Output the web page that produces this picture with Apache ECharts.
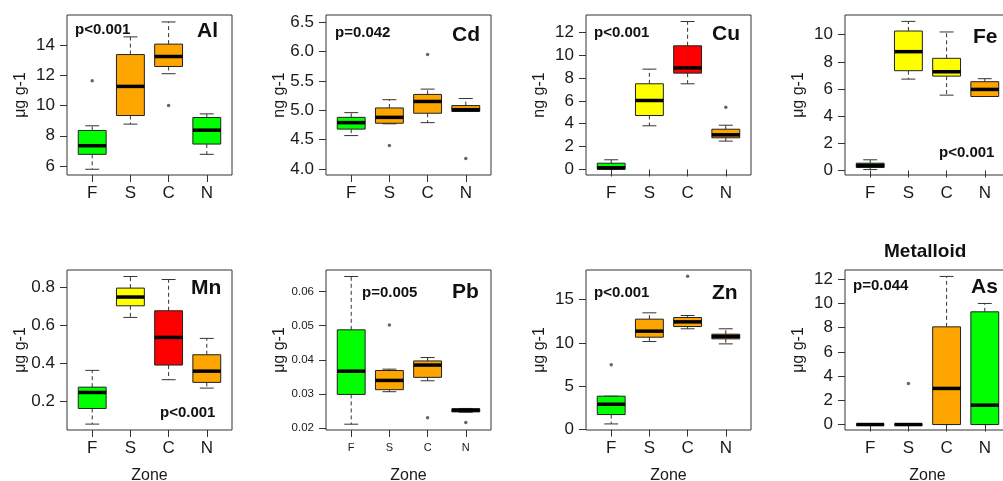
<!DOCTYPE html>
<html>
<head>
<meta charset="utf-8">
<script src="https://cdn.jsdelivr.net/npm/echarts@6/dist/echarts.min.js"></script>
<style>html,body{margin:0;padding:0;background:#fff}#main{width:1003px;height:481px}</style>
</head>
<body>
<div id="main"></div>
<script>
// zones on the x axis
var zones = ['F', 'S', 'C', 'N'];
var elements = ['Al', 'Cd', 'Cu', 'Fe', 'Mn', 'Pb', 'Zn', 'As'];
var units = ['μg g-1', 'ng g-1', 'ng g-1', 'μg g-1', 'μg g-1', 'μg g-1', 'μg g-1', 'μg g-1'];
var pValues = ['p<0.001', 'p=0.042', 'p<0.001', 'p<0.001', 'p<0.001', 'p=0.005', 'p<0.001', 'p=0.044'];

// box stats per zone: [min, Q1, median, Q3, max]
var alBox = [[5.78, 6.77, 7.34, 8.35, 8.66], [8.77, 9.34, 11.27, 13.38, 14.55], [12.11, 12.59, 13.25, 14.07, 15.54], [6.77, 7.45, 8.37, 9.21, 9.45]];
var cdBox = [[4.57, 4.68, 4.79, 4.88, 4.96], [4.77, 4.78, 4.88, 5.04, 5.18], [4.79, 4.95, 5.15, 5.27, 5.36], [4.98, 4.98, 5.01, 5.08, 5.2]];
var cuBox = [[0, 0.02, 0.15, 0.55, 0.85], [3.82, 4.72, 6.03, 7.49, 8.77], [7.49, 8.42, 8.88, 10.81, 12.93], [2.48, 2.77, 3.03, 3.52, 3.87]];
var feBox = [[0.07, 0.22, 0.37, 0.54, 0.79], [6.73, 7.35, 8.75, 10.27, 10.98], [5.55, 6.95, 7.27, 8.26, 10.2], [5.45, 5.45, 5.97, 6.54, 6.76]];
var mnBox = [[0.081, 0.163, 0.247, 0.275, 0.363], [0.641, 0.702, 0.748, 0.795, 0.856], [0.314, 0.391, 0.536, 0.676, 0.84], [0.27, 0.3, 0.359, 0.445, 0.531]];
var pbBox = [[0.0212, 0.0299, 0.0367, 0.0488, 0.0644], [0.0307, 0.0313, 0.034, 0.0369, 0.0373], [0.0339, 0.0349, 0.0385, 0.0397, 0.0407], [0.0247, 0.0248, 0.0253, 0.0257, 0.0258]];
var znBox = [[0.65, 1.73, 2.92, 3.85, 3.85], [10.15, 10.65, 11.35, 12.73, 13.46], [11.62, 11.88, 12.42, 12.92, 13.15], [9.88, 10.46, 10.73, 11.0, 11.62]];
var asBox = [[0, 0, 0, 0, 0], [0, 0, 0, 0, 0], [0, 0, 2.98, 8.06, 12.22], [0, 0, 1.6, 9.3, 9.99]];

// outliers: [zone number, value]
var alOut = [[1, 11.65], [3, 10.0]];
var cdOut = [[2, 4.4], [3, 5.95], [4, 4.18]];
var cuOut = [[4, 5.45]];
var feOut = [];
var mnOut = [];
var pbOut = [[2, 0.0502], [3, 0.0231], [4, 0.0217]];
var znOut = [[1, 7.46], [3, 17.69]];
var asOut = [[2, 3.39]];

// box fill per zone
var alCol = ['green', 'orange', 'orange', 'green'];
var cdCol = ['green', 'orange', 'orange', 'orange'];
var cuCol = ['green', 'yellow', 'red', 'orange'];
var feCol = ['green', 'yellow', 'yellow', 'orange'];
var mnCol = ['green', 'yellow', 'red', 'orange'];
var pbCol = ['green', 'orange', 'orange', 'orange'];
var znCol = ['green', 'orange', 'orange', 'orange'];
var asCol = ['green', 'orange', 'orange', 'green'];

// y axis ticks and plotted range
var alTicks = [6, 8, 10, 12, 14], alRange = [5.4, 16.0];
var cdTicks = [4.0, 4.5, 5.0, 5.5, 6.0, 6.5], cdRange = [3.9, 6.62];
var cuTicks = [0, 2, 4, 6, 8, 10, 12], cuRange = [-0.48, 13.5];
var feTicks = [0, 2, 4, 6, 8, 10], feRange = [-0.33, 11.45];
var mnTicks = [0.2, 0.4, 0.6, 0.8], mnRange = [0.05, 0.89];
var pbTicks = [0.02, 0.03, 0.04, 0.05, 0.06], pbRange = [0.0195, 0.0663];
var znTicks = [0, 5, 10, 15], znRange = [-0.05, 18.4];
var asTicks = [0, 2, 4, 6, 8, 10, 12], asRange = [-0.45, 12.75];

var palette = { green: '#00FF00', orange: '#FFA500', yellow: '#FFFF00', red: '#FF0000' };

var panels = [
	{ box: alBox, out: alOut, col: alCol, ticks: alTicks, range: alRange, dec: 0 },
	{ box: cdBox, out: cdOut, col: cdCol, ticks: cdTicks, range: cdRange, dec: 1 },
	{ box: cuBox, out: cuOut, col: cuCol, ticks: cuTicks, range: cuRange, dec: 0 },
	{ box: feBox, out: feOut, col: feCol, ticks: feTicks, range: feRange, dec: 0 },
	{ box: mnBox, out: mnOut, col: mnCol, ticks: mnTicks, range: mnRange, dec: 1 },
	{ box: pbBox, out: pbOut, col: pbCol, ticks: pbTicks, range: pbRange, dec: 2 },
	{ box: znBox, out: znOut, col: znCol, ticks: znTicks, range: znRange, dec: 0 },
	{ box: asBox, out: asOut, col: asCol, ticks: asTicks, range: asRange, dec: 0 }
];

// layout: plot boxes and text spots
var lefts = [67, 326, 586, 845];
var tops = [15, 270];
var pPos = [[75, 22], [335, 25], [594, 25], [939, 145], [160, 405], [362, 285], [594, 285], [853, 278]];
var namePos = [[197, 21], [452, 25], [712, 24], [973, 27], [191, 278], [452, 282], [712, 283], [971, 277]];

var FONT = 'Liberation Sans';
var TXT = '#1a1a1a';

var myChart = echarts.init(document.getElementById('main'));

var grids = [], xAxes = [], yAxes = [], series = [], titles = [];

panels.forEach(function(p, k) {
	var small = k === 5;  // Pb panel has smaller tick labels
	var bottomRow = k >= 4;
	grids.push({
		left: lefts[k % 4], top: tops[bottomRow ? 1 : 0], width: 165, height: 160,
		containLabel: false, outerBoundsMode: 'none',
		show: true, borderColor: '#333', borderWidth: 1, backgroundColor: 'transparent'
	});
	xAxes.push({
		type: 'value', gridIndex: k, min: 0.34, max: 4.66,
		name: bottomRow ? 'Zone' : '', nameLocation: 'middle', nameGap: 38,
		nameTextStyle: { fontFamily: FONT, fontSize: 16, color: TXT },
		axisLine: { show: false },
		splitLine: { show: false },
		axisTick: { show: true, length: 7, lineStyle: { color: '#333' }, customValues: [1, 2, 3, 4] },
		axisLabel: {
			customValues: [1, 2, 3, 4], margin: small ? 12 : 10,
			fontFamily: FONT, fontSize: small ? 11 : 17, color: TXT,
			formatter: function(v) { return zones[Math.round(v) - 1]; }
		}
	});
	yAxes.push({
		type: 'value', gridIndex: k, min: p.range[0], max: p.range[1],
		name: units[k], nameLocation: 'middle', nameGap: 38, nameMoveOverlap: false,
		nameTextStyle: { fontFamily: FONT, fontSize: 16, color: TXT },
		axisLine: { show: false },
		splitLine: { show: false },
		axisTick: { show: true, length: 7, lineStyle: { color: '#333' }, customValues: p.ticks },
		axisLabel: {
			customValues: p.ticks, margin: 12,
			fontFamily: FONT, fontSize: small ? 11.5 : 17, color: TXT,
			formatter: (function(d) { return function(v) { return v.toFixed(d); }; })(p.dec)
		}
	});
	series.push({
		type: 'custom', xAxisIndex: k, yAxisIndex: k,
		data: p.box.map(function(s, i) { return [i + 1].concat(s); }),
		renderItem: (function(cols) {
			return function(params, api) {
				var x = api.value(0);
				var lo = api.coord([x, api.value(1)]);
				var q1 = api.coord([x, api.value(2)]);
				var md = api.coord([x, api.value(3)]);
				var q3 = api.coord([x, api.value(4)]);
				var hi = api.coord([x, api.value(5)]);
				var w = api.size([0.73, 0])[0];
				var cx = lo[0];
				var dash = { stroke: '#333', lineWidth: 1, lineDash: [4, 3] };
				var solid = { stroke: '#333', lineWidth: 1 };
				return {
					type: 'group',
					children: [
						{ type: 'line', shape: { x1: cx, y1: q3[1], x2: cx, y2: hi[1] }, style: dash },
						{ type: 'line', shape: { x1: cx, y1: q1[1], x2: cx, y2: lo[1] }, style: dash },
						{ type: 'line', shape: { x1: cx - w / 4, y1: hi[1], x2: cx + w / 4, y2: hi[1] }, style: solid },
						{ type: 'line', shape: { x1: cx - w / 4, y1: lo[1], x2: cx + w / 4, y2: lo[1] }, style: solid },
						{ type: 'rect', shape: { x: cx - w / 2, y: q3[1], width: w, height: q1[1] - q3[1] },
							style: { fill: palette[cols[params.dataIndex]], stroke: '#222', lineWidth: 1 } },
						{ type: 'line', shape: { x1: cx - w / 2, y1: md[1], x2: cx + w / 2, y2: md[1] },
							style: { stroke: '#000', lineWidth: 3.5 } }
					]
				};
			};
		})(p.col)
	});
	series.push({
		type: 'scatter', xAxisIndex: k, yAxisIndex: k, z: 5,
		data: p.out, symbol: 'circle', symbolSize: 3.5,
		itemStyle: { color: '#666', opacity: 1 }
	});
	titles.push({
		text: pValues[k], left: pPos[k][0], top: pPos[k][1], padding: 0,
		textStyle: { fontFamily: FONT, fontSize: 15, fontWeight: 'bold', color: '#111' }
	});
	titles.push({
		text: elements[k], left: namePos[k][0], top: namePos[k][1], padding: 0,
		textStyle: { fontFamily: FONT, fontSize: 21, fontWeight: 'bold', color: '#111' }
	});
});

titles.push({
	text: 'Metalloid', left: 884, top: 242, padding: 0,
	textStyle: { fontFamily: FONT, fontSize: 19, fontWeight: 'bold', color: '#111' }
});

var Option = {
	animation: false,
	backgroundColor: '#fff',
	title: titles,
	grid: grids,
	xAxis: xAxes,
	yAxis: yAxes,
	series: series
};

myChart.setOption(Option);
</script>
</body>
</html>
